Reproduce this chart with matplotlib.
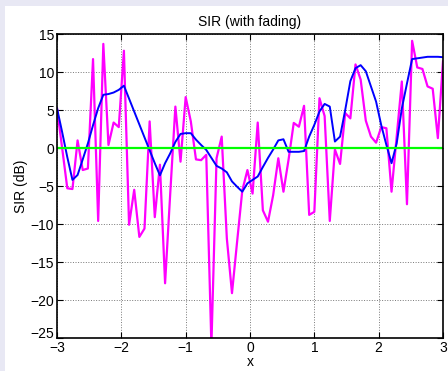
import numpy as np
import matplotlib
matplotlib.use('Agg')
import matplotlib.pyplot as plt
import matplotlib.transforms as mtransforms
from matplotlib.patches import Rectangle

plt.rcParams['font.family'] = ['Liberation Sans', 'DejaVu Sans']

# x grid: -3:0.08:3
x = np.linspace(-3, 3, 76)

# SIR with fading (magenta)
sir_fading = [5.24, 0.0, -5.3, -5.4, 1.0, -2.9, -2.7, 11.7, -9.6, 13.7,
              0.4, 3.35, 2.75, 12.8, -10.1, -5.5, -11.7, -10.6, 3.5, -9.1,
              -2.2, -17.8, -6.0, 5.45, -1.8, 6.7, 3.5, -1.5, -1.6, -0.9,
              -26.0, -1.35, 1.5, -11.9, -19.1, -12.3, -5.6, -2.9, -6.0, 3.35,
              -8.2, -9.7, -6.2, -1.35, -5.75, -1.5, 3.3, 2.8, 5.55, -8.8,
              -8.4, 6.55, 4.2, -9.6, -0.2, -2.1, 4.6, 3.9, 11.0, 9.0,
              3.6, 1.5, 0.7, 2.75, 2.6, -5.75, 1.5, 8.75, -7.4, 14.1,
              10.6, 10.4, 8.1, 7.8, 1.3, 11.4]

# smoothed SIR (blue)
sir_smooth = [5.24, 2.1, -1.2, -4.2, -3.55, -1.5, 0.6, 3.0, 5.24, 7.0,
              7.1, 7.3, 7.65, 8.2, 6.5, 4.8, 3.1, 1.4, -0.3, -2.0,
              -3.6, -2.0, -0.7, 0.8, 1.85, 1.95, 1.95, 1.1, 0.4, -0.25,
              -1.3, -2.35, -2.7, -3.2, -4.4, -5.1, -5.75, -4.65, -4.2, -3.75,
              -2.5, -1.3, -0.2, 1.0, 1.15, -0.5, -0.5, -0.5, -0.4, 1.5,
              3.05, 4.8, 5.8, 5.45, 0.85, 1.5, 5.0, 8.8, 10.5, 10.9,
              10.1, 8.1, 6.1, 3.0, 0.4, -2.0, 0.6, 5.2, 8.5, 11.7,
              11.8, 11.9, 12.0, 12.0, 12.0, 11.95]

zero_line = [0, 0]

fig = plt.figure(figsize=(4.48, 3.71), dpi=100, facecolor='white')
# lavender strips at the left and top edges
fig.patches.append(Rectangle((0, 0), 5 / 448, 1, transform=fig.transFigure,
                             facecolor='#e8e8f4', edgecolor='none', zorder=0))
fig.patches.append(Rectangle((0, 1 - 6 / 371), 1, 6 / 371, transform=fig.transFigure,
                             facecolor='#e8e8f4', edgecolor='none', zorder=0))

ax = fig.add_axes([57 / 448, 33 / 371, 386 / 448, 304 / 371])

ax.plot(x, sir_fading, color='#ff00ff', lw=1.6)
ax.plot(x, sir_smooth, color='#0000ff', lw=1.4)
ax.plot([-3, 3], zero_line, color='#00ff00', lw=1.6)

ax.set_xlim(-3, 3)
ax.set_ylim(-25, 15)
ax.set_xticks(range(-3, 4))
ax.set_yticks(range(-25, 20, 5))
ax.grid(True, linestyle=':', color='#777777', lw=0.7)
ax.tick_params(direction='in', top=True, right=True, labelsize=10, length=4, pad=2)
for s in ax.spines.values():
    s.set_linewidth(1.2)

# lift the bottom y label a little, like the original
fig.canvas.draw()
ylabs = ax.get_yticklabels()
ylabs[0].set_transform(ylabs[0].get_transform() +
                       mtransforms.ScaledTranslation(0, 5 / 100, fig.dpi_scale_trans))

ax.set_title('SIR (with fading)', fontsize=10, pad=6)
ax.set_xlabel('x', fontsize=10, labelpad=0)
ax.set_ylabel('SIR (dB)', fontsize=10, labelpad=2)

fig.savefig('out.png', dpi=100, facecolor=fig.get_facecolor())
